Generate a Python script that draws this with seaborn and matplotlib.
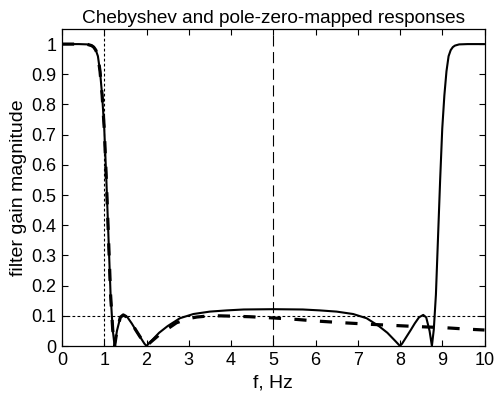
import numpy as np
import pandas as pd
import matplotlib
matplotlib.use("Agg")
import matplotlib.pyplot as plt
import seaborn as sns

# Digital (pole-zero-mapped) filter response
freq_digital = [0.0, 0.2, 0.4, 0.6, 0.7, 0.75, 0.8, 0.85, 0.9, 0.95, 1.0, 1.05,
                1.1, 1.15, 1.2, 1.245, 1.3, 1.38, 1.45, 1.55, 1.65, 1.75, 1.85,
                1.95, 2.0, 2.1, 2.3, 2.5, 2.79, 3.11, 3.5, 3.9, 4.3, 5.0,
                5.7, 6.1, 6.5, 6.89, 7.21, 7.5, 7.7, 7.9, 8.0, 8.05, 8.15, 8.25,
                8.35, 8.45, 8.55, 8.62, 8.7, 8.755, 8.8, 8.85, 8.9, 8.95, 9.0,
                9.05, 9.1, 9.15, 9.2, 9.25, 9.3, 9.4, 9.6, 9.8, 10.0]
gain_digital = [1.0, 1.0, 1.0, 0.999, 0.995, 0.99, 0.98, 0.96, 0.91, 0.83, 0.72, 0.55,
                0.36, 0.17, 0.055, 0.0, 0.05, 0.095, 0.103, 0.095, 0.075, 0.052, 0.03,
                0.008, 0.0, 0.015, 0.044, 0.066, 0.092, 0.106, 0.114, 0.118, 0.121, 0.122,
                0.121, 0.118, 0.114, 0.106, 0.092, 0.066, 0.044, 0.015, 0.0, 0.008, 0.03, 0.052,
                0.075, 0.095, 0.103, 0.095, 0.05, 0.0, 0.055, 0.17, 0.36, 0.55, 0.72,
                0.83, 0.91, 0.96, 0.98, 0.99, 0.995, 0.999, 1.0, 1.0, 1.0]

# Analog Chebyshev response
freq_analog = [0.0, 0.2, 0.4, 0.6, 0.7, 0.75, 0.8, 0.85, 0.9, 0.95, 1.0, 1.05,
               1.1, 1.15, 1.2, 1.245, 1.3, 1.38, 1.45, 1.55, 1.65, 1.75, 1.85,
               1.95, 2.0, 2.1, 2.3, 2.5, 2.71, 3.0, 3.19, 3.5, 3.74, 4.0, 4.45,
               5.0, 5.56, 6.0, 6.66, 7.29, 7.88, 8.47, 9.02, 9.58, 10.0]
gain_analog = [1.0, 1.0, 1.0, 0.999, 0.995, 0.99, 0.98, 0.96, 0.91, 0.83, 0.72, 0.55,
               0.36, 0.17, 0.055, 0.0, 0.05, 0.095, 0.103, 0.095, 0.075, 0.052, 0.03,
               0.008, 0.0, 0.013, 0.037, 0.057, 0.077, 0.091, 0.096, 0.100, 0.100, 0.099, 0.097,
               0.093, 0.088, 0.083, 0.077, 0.072, 0.068, 0.064, 0.061, 0.056, 0.053]

x_ticks = [0, 1, 2, 3, 4, 5, 6, 7, 8, 9, 10]
y_ticks = [0, 0.1, 0.2, 0.3, 0.4, 0.5, 0.6, 0.7, 0.8, 0.9, 1]
y_tick_labels = ["0", "0.1", "0.2", "0.3", "0.4", "0.5", "0.6", "0.7", "0.8", "0.9", "1"]
passband_edge = 1
nyquist = 5
stopband_level = 0.1

sns.set_style("ticks")
plt.rcParams['font.family'] = ['Liberation Sans', 'DejaVu Sans']
plt.rcParams['xtick.direction'] = 'in'
plt.rcParams['ytick.direction'] = 'in'
for key in ['text.color', 'axes.labelcolor', 'xtick.color', 'ytick.color',
            'axes.edgecolor', 'xtick.labelcolor', 'ytick.labelcolor']:
    plt.rcParams[key] = 'black'

fig = plt.figure(figsize=(5.0, 3.95), dpi=100)
ax = fig.add_axes([0.124, 0.124, 0.845, 0.8026])

df_d = pd.DataFrame({"f": freq_digital, "g": gain_digital})
df_a = pd.DataFrame({"f": freq_analog, "g": gain_analog})

ax.axvline(passband_edge, color="black", lw=0.8, dashes=(2.5, 2.0), zorder=1)
ax.axvline(nyquist, color="black", lw=0.8, dashes=(10, 5), zorder=1)
ax.axhline(stopband_level, color="black", lw=0.8, dashes=(2.5, 2.0), zorder=1)

sns.lineplot(data=df_a, x="f", y="g", ax=ax, color="black", lw=2.3,
             estimator=None, sort=False, dashes=False, zorder=2)
ax.lines[-1].set_dashes((3.8, 4.2))
sns.lineplot(data=df_d, x="f", y="g", ax=ax, color="black", lw=1.5,
             estimator=None, sort=False, zorder=3)

ax.set_xlim(0, 10)
ax.set_ylim(0, 1.05)
ax.set_xticks(x_ticks)
ax.set_yticks(y_ticks)
ax.set_yticklabels(y_tick_labels)
ax.tick_params(axis="both", which="both", direction="in", top=True, right=True,
               length=4, width=0.8, labelsize=13, pad=4, colors="black")
for s in ax.spines.values():
    s.set_visible(True)
    s.set_linewidth(0.9)
    s.set_color("black")

ax.set_title("Chebyshev and pole-zero-mapped responses", fontsize=13.7, pad=4,
             color="black")
ax.set_xlabel("f, Hz", fontsize=14, labelpad=4, color="black")
ax.set_ylabel("filter gain magnitude", fontsize=14, labelpad=3, color="black")

fig.savefig("out.png", dpi=100)
